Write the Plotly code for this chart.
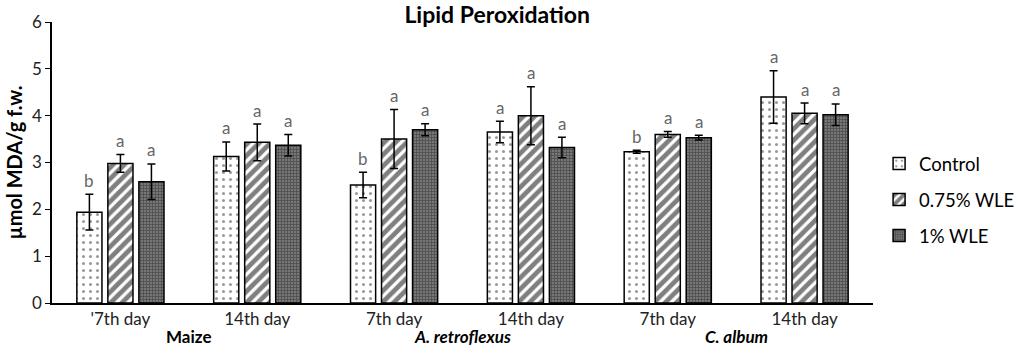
import plotly.graph_objects as go

categories = ["'7th day", "14th day", "7th day", "14th day", "7th day", "14th day"]
groups = ["Maize", "<i>A. retroflexus</i>", "<i>C. album</i>"]
series = ["Control", "0.75% WLE", "1% WLE"]
control = [1.94, 3.13, 2.52, 3.65, 3.23, 4.40]
control_err = [0.38, 0.31, 0.27, 0.23, 0.03, 0.56]
wle075 = [2.98, 3.43, 3.50, 4.00, 3.60, 4.05]
wle075_err = [0.19, 0.39, 0.63, 0.62, 0.06, 0.22]
wle1 = [2.59, 3.37, 3.70, 3.32, 3.53, 4.02]
wle1_err = [0.38, 0.23, 0.13, 0.22, 0.05, 0.23]
letters_control = ["b", "a", "b", "a", "b", "a"]
letters_075 = ["a", "a", "a", "a", "a", "a"]
letters_1 = ["a", "a", "a", "a", "a", "a"]

FONT = "Lato"
x = list(range(len(categories)))
bargap = 0.32
bargroupgap = 0.19

values = [control, wle075, wle1]
errs = [control_err, wle075_err, wle1_err]
letters = [letters_control, letters_075, letters_1]
patterns = [
    dict(shape=".", fgcolor="#333333", bgcolor="white", size=7, solidity=0.15),
    dict(shape="/", fgcolor="black", bgcolor="white", size=8, solidity=0.6),
    dict(shape="+", fgcolor="#222222", bgcolor="#777777", size=3, solidity=0.45),
]

fig = go.Figure()
for s, vals, e, pat in zip(series, values, errs, patterns):
    fig.add_trace(go.Bar(
        x=x, y=vals, name=s, legendgroup=s,
        marker=dict(color="white", pattern=pat, line=dict(color="black", width=1.5)),
        error_y=dict(type="data", array=e, color="black", thickness=1.5, width=4),
    ))

slot = (1 - bargap) / 3
annotations = []
for i, (vals, e, lt) in enumerate(zip(values, errs, letters)):
    off = (i - 1) * slot
    for j in x:
        annotations.append(dict(
            x=j + off, y=vals[j] + e[j], xref="x", yref="y", text=lt[j],
            showarrow=False, yshift=14, font=dict(family=FONT, size=17, color="#666666"),
        ))
for k, g in enumerate(groups):
    annotations.append(dict(
        x=2 * k + 0.5, y=-0.12, xref="x", yref="paper", text="<b>" + g + "</b>",
        showarrow=False, font=dict(family=FONT, size=17, color="black"), yanchor="middle",
    ))

fig.update_layout(
    width=1021, height=361,
    margin=dict(l=52, r=148, t=22, b=58, autoexpand=False),
    paper_bgcolor="white", plot_bgcolor="white",
    barmode="group", bargap=bargap, bargroupgap=bargroupgap,
    title=dict(text="<b>Lipid Peroxidation</b>", x=0.487, xanchor="center", y=0.958, yanchor="middle",
               font=dict(family=FONT, size=23, color="black"), automargin=False),
    font=dict(family=FONT, color="black"),
    legend=dict(xref="container", yref="container", x=0.861, y=0.446, xanchor="left", yanchor="middle",
                traceorder="grouped", tracegroupgap=9, font=dict(family=FONT, size=18.5, color="black")),
    annotations=annotations,
    xaxis=dict(tickvals=x, ticktext=categories, range=[-0.5, 5.5], showline=True, automargin=False,
               linecolor="black", linewidth=1.5, ticks="", tickfont=dict(family=FONT, size=17, color="#222222"),
               showgrid=False, zeroline=False),
    yaxis=dict(range=[0, 6], dtick=1, showline=True, linecolor="black", linewidth=1.5, automargin=False,
               ticks="outside", ticklen=5, tickcolor="black", showgrid=False, zeroline=False,
               tickfont=dict(family=FONT, size=17, color="#222222"),
               title=dict(text="<b>µmol MDA/g f.w.</b>", font=dict(family=FONT, size=20, color="black"), standoff=4)),
)
fig.write_html("out.html", config={"displayModeBar": False},
               post_script="document.body.style.margin='0';")
